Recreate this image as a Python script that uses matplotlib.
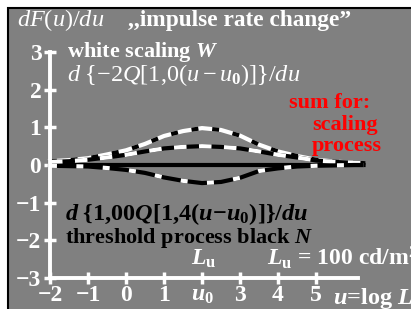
import matplotlib
matplotlib.use("Agg")
import matplotlib.pyplot as plt
from matplotlib.patches import Rectangle

plt.rcParams['font.family'] = ['Liberation Serif', 'DejaVu Serif']
plt.rcParams['mathtext.fontset'] = 'custom'
plt.rcParams['mathtext.rm'] = 'Liberation Serif'
plt.rcParams['mathtext.it'] = 'Liberation Serif:italic'
plt.rcParams['mathtext.bf'] = 'Liberation Serif:bold'
plt.rcParams['mathtext.bfit'] = 'Liberation Serif:italic:bold'
plt.rcParams['lines.scale_dashes'] = False

# values
u = [-2, -1.5, -1, -0.5, 0, 0.5, 1, 1.5, 2, 2.5, 3, 3.5, 4, 4.5, 5, 5.5, 6, 6.25]
sum_curve = [0.10, 0.13, 0.18, 0.28, 0.39, 0.56, 0.77, 0.90, 0.98, 0.93, 0.78, 0.54, 0.36, 0.24, 0.14, 0.09, 0.06, 0.05]
white_curve = [0.08, 0.10, 0.14, 0.20, 0.27, 0.36, 0.44, 0.48, 0.50, 0.48, 0.44, 0.36, 0.27, 0.20, 0.12, 0.08, 0.06, 0.05]
black_curve = [-0.02, -0.03, -0.04, -0.08, -0.13, -0.21, -0.33, -0.42, -0.48, -0.45, -0.34, -0.16, -0.09, -0.04, -0.02, -0.01, 0.0, 0.0]
zero_u = [-2, 6.25]
zero_v = [0, 0]

xticks = [-2, -1, 0, 1, 2, 3, 4, 5]
xlabels = ["\u22122", "\u22121", "0", "1", r"$\mathbfit{u}_\mathbf{0}$", "3", "4", "5"]
yticks = [3, 2, 1, 0, -1, -2, -3]
ylabels = ["3", "2", "1", "0", "\u22121", "\u22122", "\u22123"]

fig = plt.figure(figsize=(4.11, 3.09), dpi=100)
fig.patch.set_facecolor("white")
bg = Rectangle((8 / 411, -0.1), 1.2, 1 - 8 / 309 + 0.1, transform=fig.transFigure,
               facecolor="#808080", edgecolor="black", linewidth=1.5, zorder=0)
fig.add_artist(bg)

ax = fig.add_axes([0, 0, 1, 1])
ax.set_facecolor("none")
ax.set_xlim(-2 - 50 / 38, -2 + 361 / 38)
ax.set_ylim((165 - 309) / 37.67, 165 / 37.67)

for s in ["top", "right"]:
    ax.spines[s].set_visible(False)
ax.spines["left"].set_position(("data", -2))
ax.spines["bottom"].set_position(("data", -3))
ax.spines["left"].set_bounds(-3, 3)
ax.spines["bottom"].set_bounds(-2, 6.1)
for s in ["left", "bottom"]:
    ax.spines[s].set_color("white")
    ax.spines[s].set_linewidth(2.8)

ax.set_xticks(xticks, labels=xlabels)
ax.set_yticks(yticks, labels=ylabels)
ax.tick_params(direction="inout", length=8.5, width=2.5, color="white",
               labelcolor="white", labelsize=17)
ax.tick_params(axis="x", pad=1)
ax.tick_params(axis="y", pad=2)
for lab in ax.get_xticklabels() + ax.get_yticklabels():
    lab.set_fontweight("bold")

# curves: base line + dashes on top
ax.plot(zero_u, zero_v, color="black", lw=3, solid_capstyle="butt")
ax.plot(u, sum_curve, color="white", lw=3)
ax.plot(u, sum_curve, color="black", lw=3, dashes=(5, 10))
ax.plot(u, white_curve, color="black", lw=3)
ax.plot(u, white_curve, color="white", lw=3, dashes=(9, 9))
ax.plot(u, black_curve, color="black", lw=3)
ax.plot(u, black_curve, color="white", lw=3, dashes=(5, 14))

def px(x):
    return -2 + (x - 50) / 38

def py(y):
    return (165 - y) / 37.67

fs = 16
fm = 17.5
ax.text(px(17), py(26), r"$dF(u)/du$", color="white", fontsize=fm, va="baseline")
ax.text(px(128), py(26), ",,impulse rate change\u201d", color="white", fontsize=16.8,
        fontweight="bold", va="baseline")
ax.text(px(67), py(57), r"white scaling $\mathbfit{W}$", color="white", fontsize=fs,
        fontweight="bold", va="baseline")
ax.text(px(67), py(81), r"$d\ \{-2Q[1{,}0(u-u_\mathbf{0})]\}/du$", color="white",
        fontsize=fm, va="baseline")
ax.text(px(289), py(108), "sum for:", color="red", fontsize=fs, fontweight="bold", va="baseline")
ax.text(px(312), py(130), "scaling", color="red", fontsize=fs, fontweight="bold", va="baseline")
ax.text(px(312), py(151), "process", color="red", fontsize=fs, fontweight="bold", va="baseline")
ax.text(px(65), py(220),
        r"$\mathbfit{d}\ \mathbf{\{1{,}00}\mathbfit{Q}\mathbf{[1{,}4(}\mathbfit{u}\mathbf{-}\mathbfit{u}_\mathbf{0}\mathbf{)]\}/}\mathbfit{du}$",
        color="black", fontsize=fm, va="baseline")
ax.text(px(65), py(243), r"threshold process black $\mathbfit{N}$", color="black",
        fontsize=fs, fontweight="bold", va="baseline")
ax.text(px(191), py(265), r"$\mathbfit{L}_\mathbf{u}$", color="white", fontsize=17,
        fontweight="bold", va="baseline")
ax.text(px(267), py(265), r"$\mathbfit{L}_\mathbf{u}$ = 100 cd/m$^\mathbf{2}$", color="white",
        fontsize=17, fontweight="bold", va="baseline")
ax.text(px(333), py(304), r"$\mathbfit{u}$=log $\mathbfit{L}$", color="white", fontsize=fm,
        fontweight="bold", va="baseline")

fig.savefig("out.png", dpi=100)
